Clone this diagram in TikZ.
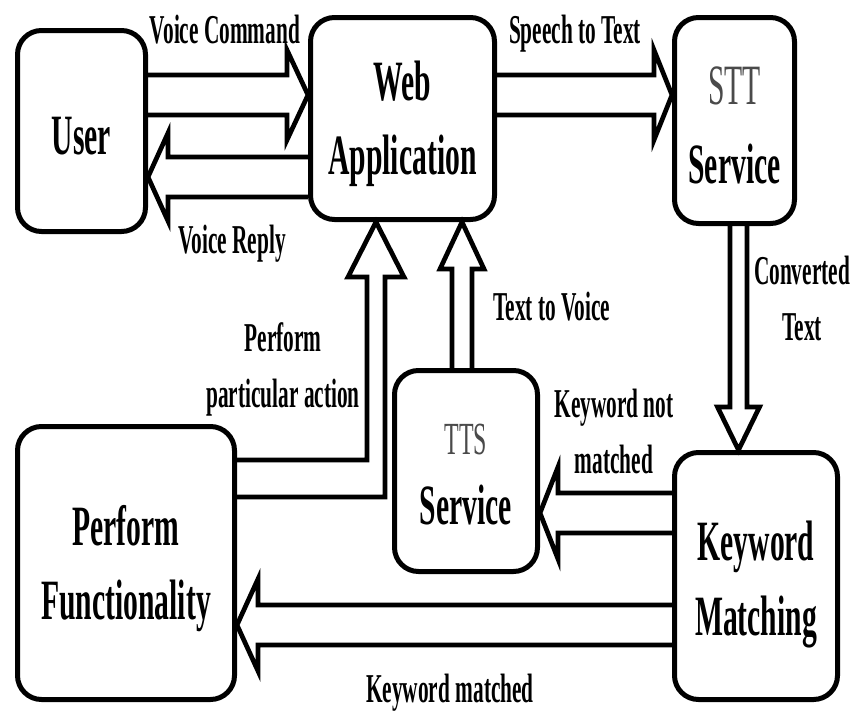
\documentclass[tikz,border=0pt]{standalone}
\usepackage{fontspec}
\usetikzlibrary{calc}
\newfontfamily\cfont{Liberation Serif}[FakeStretch=0.52]
\definecolor{tgray}{HTML}{4A4A4A}
\newcommand\hollowarrow[5]{%
  \coordinate (hneck) at ($(#2)!#5!(#1)$);
  \draw[arrowline] ($(#1)!#3!90:(#2)$) -- ($(hneck)!#3!90:(#2)$) -- ($(hneck)!#4!90:(#2)$) -- (#2)
    -- ($(hneck)!#4!-90:(#2)$) -- ($(hneck)!#3!-90:(#2)$) -- ($(#1)!#3!-90:(#2)$);
}
\newcommand\tstrut[1]{\rule{0pt}{#1}}
\tikzset{
  box/.style={draw, line width=5pt, rounded corners=24pt, align=center, inner sep=0pt,
    font=\cfont\bfseries\fontsize{57}{74}\selectfont},
  lab/.style={font=\cfont\bfseries\fontsize{41}{56}\selectfont, inner sep=0pt, align=center},
  arrowline/.style={line width=4.7pt, line join=miter, miter limit=10}
}
\begin{document}
\begin{tikzpicture}[x=1pt, y=-1pt]
\fill[white] (0,0) rectangle (856,715);
\useasboundingbox (0,0) rectangle (856,715);

\node[box, minimum width=128pt, minimum height=201pt] (user) at (81.5,131) {\tstrut{48pt}User};
\node[box, minimum width=184pt, minimum height=202pt] (web) at (402.5,118.5) {\tstrut{50pt}Web\\Application};
\node[box, minimum width=120pt, minimum height=206pt, font=\cfont\bfseries\fontsize{57}{79}\selectfont] (stt) at (734.5,120.5) {\tstrut{47pt}{\mdseries\color{tgray}STT}\\Service};
\node[box, minimum width=143pt, minimum height=201pt, font=\cfont\bfseries\fontsize{57}{70}\selectfont] (tts) at (466,471) {\tstrut{37pt}{\fontsize{46}{70}\selectfont\mdseries\color{tgray}TTS}\\Service};
\node[box, minimum width=217pt, minimum height=273pt] (perf) at (126,563) {\tstrut{52pt}Perform\\Functionality};
\node[box, minimum width=163pt, minimum height=247pt, font=\cfont\bfseries\fontsize{57}{75}\selectfont] (kw) at (756,576) {\tstrut{56pt}Keyword\\Matching};

% User -> Web
\coordinate (a1t) at (user.east |- 0,95);
\coordinate (a1h) at (web.west |- 0,95);
\hollowarrow{a1t}{a1h}{20pt}{45pt}{21pt}
% Web -> User
\coordinate (a2t) at (web.west |- 0,177);
\coordinate (a2h) at (user.east |- 0,177);
\hollowarrow{a2t}{a2h}{20pt}{44pt}{20pt}
% Web -> STT
\coordinate (a3t) at (web.east |- 0,95);
\coordinate (a3h) at (stt.west |- 0,95);
\hollowarrow{a3t}{a3h}{20pt}{45pt}{18pt}
% STT -> Keyword
\coordinate (a4t) at (738.5,0 |- stt.south);
\coordinate (a4h) at (738.5,0 |- kw.north);
\hollowarrow{a4t}{a4h}{8.5pt}{21pt}{43pt}
% TTS -> Web
\coordinate (a5t) at (462,0 |- tts.north);
\coordinate (a5h) at (462,0 |- web.south);
\hollowarrow{a5t}{a5h}{10pt}{22pt}{47pt}
% Keyword -> TTS
\coordinate (a7t) at (kw.west |- 0,513);
\coordinate (a7h) at (tts.east |- 0,513);
\hollowarrow{a7t}{a7h}{20pt}{46pt}{18pt}
% Keyword -> Perform
\coordinate (a8t) at (kw.west |- 0,625);
\coordinate (a8h) at (perf.east |- 0,625);
\hollowarrow{a8t}{a8h}{20pt}{46pt}{21pt}
% Perform -> Web (bent)
\coordinate (a6a) at (perf.east |- 0,460);
\coordinate (a6b) at (perf.east |- 0,497);
\coordinate (a6h) at (376,0 |- web.south);
\draw[arrowline] (a6a) -- (367,460) -- (367,277) -- (348,277) -- (a6h)
  -- (404,277) -- (385,277) -- (385,497) -- (a6b);

\node[lab, anchor=base] (l1) at (225,43) {Voice Command};
\node[lab, anchor=base] (l2) at (232,253) {Voice Reply};
\node[lab, anchor=base] (l3) at (575,43) {Speech to Text};
\node[lab, anchor=base] (l4) at (802,340) {Converted\\Text};
\node[lab, anchor=base] (l5) at (552,320) {Text to Voice};
\node[lab, anchor=base] (l6) at (283,407) {Perform\\particular action};
\node[lab, anchor=base] (l7) at (614,473) {Keyword not\\matched};
\node[lab, anchor=base] (l8) at (450,702) {Keyword matched};
\end{tikzpicture}
\end{document}
